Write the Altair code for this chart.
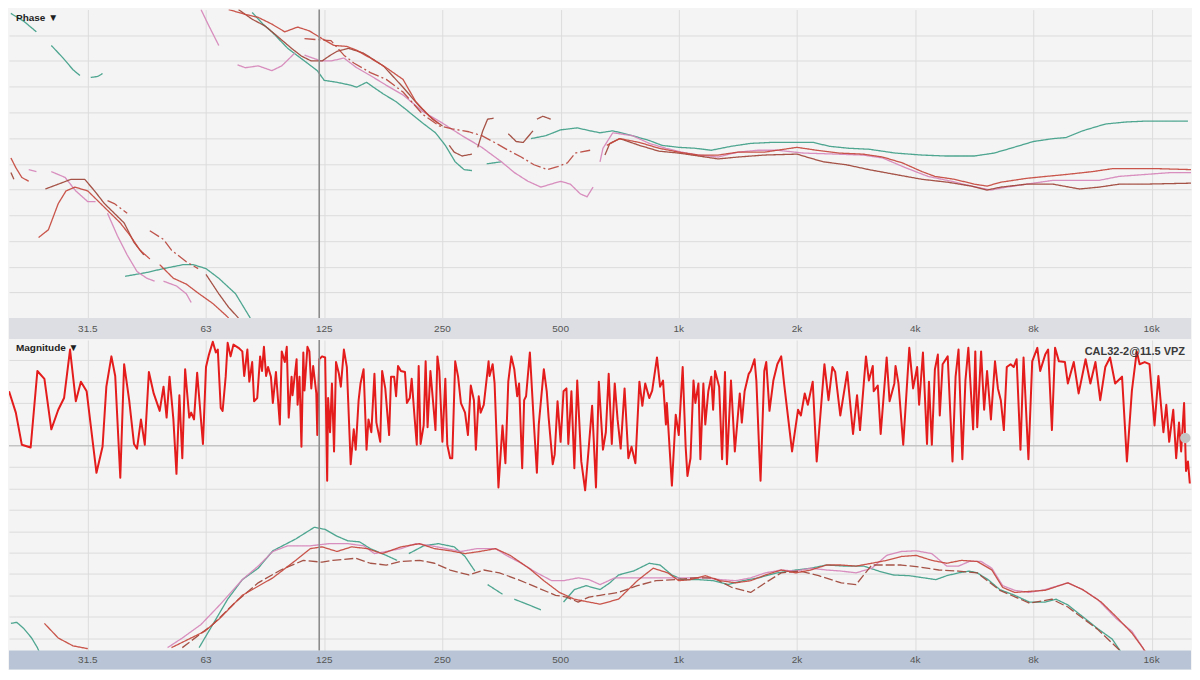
import altair as alt
import pandas as pd

# ---------------- axis / layout constants ----------------
F_MIN, F_MAX = 19.686, 20159
W = 1184
H_PH, BAND1 = 309, 21
H_MAG, BAND2 = 311, 19

TICK_FREQS = [31.25, 62.5, 125, 250, 500, 1000, 2000, 4000, 8000, 16000]
TICK_LABELS = ["31.5", "63", "125", "250", "500", "1k", "2k", "4k", "8k", "16k"]
PHASE_GRID = [-150, -120, -90, -60, -30, 0, 30, 60, 90, 120, 150]
MAG_GRID = [24, 18, 12, 6, -6, -12, -18, -24, -30, -36, -42, -48, -54]
CURSOR_F = [121.4]

# ---------------- phase traces  [freq Hz, degrees], None = gap ----------------
PH_TEAL = [[19.9,175.5],[21.46,166.4],[23.12,154], None,
    [25.23,138.1],[27.04,123.4],[28.65,109.8],[29.84,103], None,
    [31.79,100.8],[33.11,101.9],[34.07,105.3], None,
    [38.89,-131.3],[44.19,-126.8],[48.72,-122.3],[54.69,-117.7],[57.94,-117.7],[62.5,-122.3],[67.37,-133.6],[74.33,-151.7],[81.03,-180], None,
    [81.94,176.6],[87.3,163],[91.98,154],[100.94,134.7],[111.36,120],[120.03,108.7],[125,97.4],[134.74,95.1],[146.01,91.7],[151.24,89.4],
    [160.23,95.1],[166.86,89.4],[176.78,81.5],[190.55,72.5],[201.88,63.4],[222.72,47.5],[240.08,36.2],[254.35,21.5],[269.48,2.3],[283.88,-6.8],[297.3,-7.9], None,
    [324.11,0],[353.55,2.3], None,
    [420.45,29.4],[458.37,32.8],[500,39.6],[551.2,41.9],[594.6,38.5],[630,36.2],[679,38.5],[762.2,32.8],[840.9,27.2],[906.4,21.5],[1000,19.2],
    [1102,18.1],[1210,15.8],[1358,20.4],[1524,23.8],[1711,24.9],[2000,24.9],[2205,24.9],[2419,20.4],[2716,18.1],[3049,17],[3564,12.5],[4162,10.2],
    [4757,9.1],[5657,9.1],[6350,12.5],[7000,18.1],[8000,26],[8980,29.4],[9680,30.6],[10679,38.5],[12195,46.4],[13688,48.7],[15365,49.8],[17246,49.8],[19800,49.8]]

PH_PINK = [[22.1,-6.8],[23.12,-9.1], None,
    [25.23,-9.1],[27.35,-15.9],[29.13,-31.7],[31.25,-44.2],[32.7,-44.2], None,
    [35.08,-57.7],[37.16,-83.8],[39.37,-106.4],[41.71,-125.7],[44.19,-133.6],[46.24,-137], None,
    [48.72,-137],[52.56,-142.6],[55.68,-151.7],[57.3,-161.9], None,
    [60.7,180],[63.59,160.8],[67.37,138.1], None,
    [75.19,115.5],[78.75,112.1],[84.88,114.3],[91.98,108.7],[97.45,114.3],[100.94,121.1],[105.11,129.1], None,
    [111.36,126.8],[122.77,120],[130.08,120],[140.31,123.4],[151.24,112.1],[163.88,103],[179.86,91.7],[198.43,80.4],[222.72,61.1],[250,47.5],
    [280.62,32.8],[314.98,19.2],[353.55,2.3],[381.1,-10.2],[412.96,-20.4],[445.45,-27.2],[471.94,-23.8],[500,-20.4],[529.7,-23.8],[561.2,-35.1],
    [584,-38.5],[604.9,-27.2], None,
    [630,2.3],[641,18.1],[679,36.2],[762.2,32.8],[840.9,23.8],[927,18.1],[1017,13.6],[1122,10.2],[1260,7.9],[1414,13.6],[1587,15.8],[1782,15.8],
    [2081,12.5],[2520,11.3],[2943,10.2],[3304,6.8],[3776,-4.5],[4312,-14.7],[4950,-20.4],[5556,-26],[6236,-30.6],[6844,-27.2],[7682,-23.8],
    [8980,-19.3],[10254,-19.3],[11773,-19.3],[13215,-14.7],[15365,-12.5],[17959,-10.2],[20159,-10.2]]

PH_RED = [[19.91,6.8],[20.49,-4.5],[21.22,-15.9],[22.1,-20.4], None,
    [23.41,-86.1],[24.8,-77],[26.28,-46.4],[27.5,-31.7],[28.97,-27.2],[31.25,-31.7],[33.11,-43],[35.08,-54.3],[37.81,-69],[40.06,-83.8],[42.44,-100.8],[44.96,-111], None,
    [47.64,-117.7],[51.62,-133.6],[55.68,-140.4],[60.02,-151.7],[65.04,-163],[70.15,-176.6],[71.38,-180], None,
    [71.38,180],[78.75,174.3],[84.88,170.9],[91.98,163],[99.21,154],[106.94,159.6],[114.59,155.1],[123.45,146],[132.43,138.1],[142.75,137],
    [151.24,132.5],[163.88,123.4],[179.86,112.1],[198.43,98.5],[213.88,72.5],[231.76,55.5],[245.55,46.4], None,
    [655.6,21.5],[707.1,29.4],[793.7,24.9],[890.9,18.1],[1000,13.6],[1122,10.2],[1260,10.2],[1414,13.6],[1651,13.6],[2000,19.2],[2245,15.8],
    [2564,12.5],[2943,11.3],[3304,7.9],[3709,1.1],[4162,-9.1],[4490,-14.7],[5040,-18.1],[5657,-23.8],[6097,-26],[6608,-21.5],[7682,-17],
    [8623,-14.7],[9680,-12.5],[11314,-9.1],[12699,-5.7],[14254,-5.7],[16650,-5.7],[20159,-6.8]]

PH_BROWN = [[19.91,-10.2],[20.26,-18.1], None,
    [24.36,-29.4],[26.28,-23.8],[28.32,-18.1],[30.69,-18.1],[32.52,-31.7],[34.45,-46.4],[36.5,-57.7],[38.67,-69],[40.97,-91.7],[43.41,-106.4], None,
    [62.5,-129.1],[67.37,-151.7],[71.38,-167.5],[75.62,-180], None,
    [75.62,180],[81.94,168.7],[88.39,160.8],[95.27,148.3],[103.24,134.7],[109.38,125.7],[115.88,120],[123.45,120],[128.63,125.7],[134.74,131.3],
    [144.38,134.7],[157.49,129.1],[176.78,114.3],[198.43,89.4],[218.75,66.8],[235.97,52.1],[250,44.2], None,
    [260.2,21.5],[267.9,13.6],[280.62,9.1],[297.3,11.3], None,
    [307.6,19.2],[316.8,38.5],[325.9,52.1],[337.6,53.2], None,
    [367.9,35.1],[385.4,26],[401.5,24.9],[425.3,38.5], None,
    [435.1,52.1],[450.6,55.5],[471.94,52.1], None,
    [648.3,10.2],[667.4,23.8],[707.1,29.4],[793.7,21.5],[890.9,14.7],[1000,12.5],[1122,9.1],[1260,5.7],[1414,7.9],[1651,10.2],[2000,11.3],
    [2156,6.8],[2336,2.3],[2670,-1.1],[3049,-6.8],[3564,-12.5],[4162,-18.1],[4840,-21.5],[5556,-26],[6097,-30.6],[6608,-27.2],[7682,-23.8],
    [8980,-23.8],[10488,-29.4],[11773,-27.2],[13215,-23.8],[15102,-23.8],[20159,-22.6]]

PH_DASH = [[35.08,-43],[36.5,-46.4],[39.37,-57.7], None,
    [44.96,-78.1],[48.72,-88.3],[51.05,-100.8],[55.68,-114.3],[59.68,-122.3], None,
    [111.36,146],[120.03,144.9],[130.08,143.8],[140.31,126.8],[148.65,117.7],[163.88,106.4],[179.86,98.5],[198.43,83.8],[222.72,57.7],
    [245.55,44.2],[264.87,40.8],[292,37.4],[314.98,32.8],[339.52,24.9],[367.91,15.8],[396.85,7.9],[427.77,-1.1],[463.54,-6.8],[491.1,-3.4],
    [520.3,1.1],[545.1,12.5],[594.6,15.8]]

# ---------------- magnitude traces [freq Hz, dB] ----------------
MAG_TEAL = [[19.91,-49.9],[20.6,-49.6],[21.46,-51.3],[22.48,-54],[23.25,-56.7],[23.55,-58.1], None,
    [60.02,-56.7],[65.04,-50.2],[70.97,-43.1],[77.34,-37.6],[84.88,-34.4],[92.49,-29.5],[105.72,-26.2],[117.98,-22.9],[125.7,-23.5],
    [134.74,-25.4],[143.57,-26.7],[153.82,-27],[163.88,-28.9],[179.86,-30.8],[191.64,-32.2], None,
    [205.34,-30.3],[224.01,-28.1],[244.18,-27.5],[267.94,-28.4],[285.5,-31.1],[302.47,-35.2], None,
    [325.94,-39],[355.6,-41.7], None,
    [381.1,-43.1],[415.26,-44.7],[445.45,-46.1], None,
    [508.7,-43.9],[542,-40.4],[580.7,-39.3],[630,-40.4],[667.4,-38.5],[702.2,-36.3],[766.6,-35.2],[840.9,-33],[896.1,-33.5],[960.3,-36.3],
    [1023,-37.6],[1122,-37.6],[1223,-37.9],[1335,-39],[1455,-37.9],[1596,-37.1],[1782,-35.7],[1987,-34.9],[2168,-34.4],[2378,-33.5],
    [2652,-33.8],[2959,-33.8],[3230,-35.2],[3520,-36.3],[3864,-36.5],[4209,-37.1],[4516,-37.6],[4812,-36.5],[5157,-35.7],[5494,-35.2],
    [5755,-35.7],[6132,-37.6],[6571,-40.4],[7168,-42],[7814,-43.9],[8574,-43.9],[9136,-43.1],[9790,-44.7],[10679,-48],[11642,-51.3],
    [12699,-54.3],[13288,-57.5],[13532,-58.9]]

MAG_PINK = [[49.9,-56.7],[54.39,-54],[60.7,-50.2],[67.75,-44.7],[77.34,-37.6],[84.88,-33.8],[92.49,-29.7],[100.94,-28.1],[115.24,-28.1],
    [128.63,-27.5],[143.57,-27.5],[157.49,-28.1],[167.83,-30.3],[179.86,-29.7],[195.98,-28.9],[213.88,-27.5],[234.35,-28.1],[255.8,-28.9],
    [278.7,-29.7],[305.9,-28.9],[341.45,-28.9],[363.8,-30.8],[396.85,-33],[435.1,-35.7],[474.7,-37.9],[508.7,-37.9],[554.3,-37.1],
    [590.5,-37.6],[630,-39],[686.8,-37.1],[753.5,-37.1],[821.3,-37.1],[896.1,-37.1],[982.2,-37.1],[1071,-37.1],[1168,-37.1],[1275,-37.6],
    [1397,-37.9],[1524,-37.1],[1661,-35.7],[1823,-34.9],[1987,-35.2],[2168,-34.4],[2378,-34.9],[2593,-35.2],[2828,-35.7],[3101,-34.4],
    [3384,-30.8],[3688,-29.7],[4023,-29.5],[4410,-30.3],[4812,-33.8],[5157,-33.8],[5494,-32.5],[5887,-32.5],[6271,-34.4],[6681,-39.3],
    [7168,-40.6],[7814,-41.2],[8574,-40.4],[9790,-38.5],[10679,-40.4],[11642,-43.1],[12994,-48.5],[14254,-52.1],[15190,-56.7],[15365,-58.1]]

MAG_RED = [[24.23,-49.9],[26.28,-54],[28.65,-56.2],[31.25,-57], None,
    [51.05,-56.7],[62.07,-52.1],[67.75,-48.5],[77.34,-42],[92.49,-37.1],[105.72,-32.2],[115.24,-28.9],[123.45,-28.4],[134.74,-29.7],
    [146.82,-28.4],[161.14,-28.9],[175.57,-30.3],[195.98,-28.4],[218.75,-27.5],[238.71,-28.9],[261.6,-29.5],[285.5,-30.3],[311.1,-29.7],
    [341.45,-28.9],[372,-30.8],[415.26,-34.4],[453.2,-37.9],[496.6,-41.2],[542,-43.1],[590.5,-43.9],[630,-44.5],[702.2,-43.1],[784,-37.9],
    [860.4,-34.4],[937.4,-35.7],[1000,-37.9],[1071,-37.6],[1168,-36.5],[1275,-37.9],[1397,-38.5],[1524,-37.9],[1661,-36.3],[1823,-34.9],
    [1987,-35.7],[2168,-34.9],[2378,-33.5],[2593,-33.5],[2828,-33.8],[3101,-33],[3384,-32.2],[3688,-31.1],[4023,-30.8],[4410,-32.2],
    [4812,-33],[5245,-32.2],[5755,-32.5],[6271,-34.9],[6681,-39.8],[7168,-41.2],[8574,-40.6],[9790,-38.5],[10679,-40.4],[11905,-43.9],
    [12994,-48],[14254,-52.6],[15365,-57.5],[15600,-58.5]]

MAG_BROWN = [[54.39,-56.7],[65.04,-50.2],[74.33,-43.9],[84.88,-38.5],[96.9,-34.9],[110.6,-32.2],[123.45,-32.7],[131.5,-32.2],[150.4,-31.6],
    [163.88,-33],[179.86,-33.5],[195.98,-32.5],[218.75,-32.2],[238.71,-33],[261.6,-34.9],[292,-36.3],[318.6,-34.9],[349.2,-35.7],
    [389.8,-37.6],[435.1,-39.8],[485.6,-42],[517.4,-42.5],[554.3,-43.9],[590.5,-42.5],[630,-42],[702.2,-41.2],[784,-39.3],[875,-37.9],
    [982.2,-37.6],[1096,-37.1],[1223,-37.1],[1366,-39.8],[1524,-41.2],[1661,-38.5],[1823,-35.7],[2035,-35.2],[2271,-36.5],[2593,-38.5],
    [2828,-39],[3101,-33.5],[3384,-33.5],[3688,-33.5],[4116,-34.1],[4594,-34.9],[5157,-35.2],[5755,-35.7],[6571,-40.6],[7814,-44.2],
    [8918,-43.1],[9790,-45.3],[11642,-51.5],[13288,-57.5],[13600,-58.8]]

# noisy measurement trace (top half of magnitude panel)
MAG_LIVE = [[19.69,15.3],[20.49,9.3],[21.22,0.3],[22.35,-0.5],[23.25,21.0],[24.23,18.8],[25.23,4.6],[26.28,10.1],[27.19,13.4],[28.16,27.0],
    [29.13,12.5],[30.01,18.0],[31.04,15.3],[32.88,-7.6],[34.07,-0.3],[34.84,16.6],[35.89,25.1],[36.7,19.6],[37.81,-9.0],[38.67,22.9],
    [39.83,12.8],[40.97,0.5],[41.71,-0.8],[42.68,7.4],[43.65,0.3],[44.71,20.7],[45.99,14.7],[47.64,9.8],[48.72,16.6],[49.61,7.9],
    [50.47,19.4],[51.62,7.4],[52.56,-7.9],[53.47,14.2],[54.39,-3.5],[55.3,21.5],[56.65,7.9],[57.3,9.3],[58.26,7.4],[59.34,20.5],
    [61.39,0.5],[62.5,22.1],[63.59,25.6],[65.04,29.2],[66.22,26.2],[66.98,27.0],[68.14,10.6],[68.9,9.8],[70.15,19.4],[70.97,28.9],
    [72.19,25.1],[73.41,28.4],[75.62,27.5],[77.34,26.5],[78.2,19.6],[79.66,27.0],[80.57,18.0],[81.94,23.5],[82.86,12.5],[84.4,13.4],
    [85.85,25.1],[86.81,21.0],[87.78,27.8],[88.9,19.6],[89.93,22.1],[91.46,19.4],[92.49,12.0],[94.19,20.7],[96.36,6.0],[97.45,26.5],
    [99.21,23.5],[100.36,27.8],[101.52,7.9],[103.24,19.4],[103.82,14.2],[106.33,24.3],[106.94,11.5],[108.16,19.4],[109.38,-0.3],[110.6,26.2],
    [111.36,15.5],[113.3,27.8],[114.59,26.5],[115.88,16.1],[117.17,22.4],[119.35,14.7],[120.03,3.0],[121.4,24.3],[123.45,25.1],[125.7,24.8],
    [127.2,-9.8],[127.9,13.4],[129.35,3.8],[130.8,17.5],[132.43,-1.6],[133.97,23.5],[136.27,20.2],[137.81,16.6],[140.31,27.0],[142.75,22.1],
    [146.01,-5.2],[148.65,4.6],[150.37,-1.1],[152.96,12.8],[154.68,17.5],[157.49,21.5],[160.23,-1.1],[162.06,7.4],[164.8,3.8],[167.83,20.2],
    [169.76,6.5],[173.63,1.1],[175.57,21.0],[178.83,16.1],[182.93,3.0],[184.98,19.4],[188.38,19.4],[190.55,13.9],[192.72,22.4],[195.98,21.0],
    [200.73,20.7],[203.03,12.0],[206.49,13.4],[208.79,18.8],[212.66,7.1],[215.1,0.3],[217.54,22.4],[219.97,0.5],[224.01,5.7],[226.6,23.7],
    [229.18,5.2],[233.05,21.0],[240.08,4.4],[242.81,25.1],[245.55,21.0],[250,1.1],[254.35,18.8],[257.25,0.3],[261.6,-3.5],[264.87,-3.5],
    [269.48,23.7],[274.09,19.4],[278.7,12.0],[285.5,9.3],[290.39,3.0],[295.27,16.9],[300.75,12.8],[304.2,-1.1],[309.37,13.9],[312.82,9.3],
    [318.63,11.5],[327.77,23.7],[329.6,19.6],[335.65,22.9],[339.52,17.5],[347.26,-11.7],[355.6,5.7],[361.75,-4.9],[367.91,18.0],[374.58,25.1],
    [381.1,21.5],[387.6,13.9],[391.97,17.5],[399.15,-6.3],[403.76,12.8],[408.36,13.9],[417.57,26.2],[427.77,5.7],[435.1,-7.6],[439.96,6.0],
    [453.2,21.5],[460.95,15.3],[466.12,7.9],[477.41,-5.2],[482.89,-2.5],[491.1,12.5],[500,1.1],[508.7,15.3],[517.4,16.1],[523.2,0.5],
    [532.77,15.3],[542,-6.3],[551.2,18.3],[564.45,-4.4],[577.47,-12.5],[587.24,-3.0],[601.5,11.2],[615.29,-11.7],[625.6,18.0],
    [641,-1.1],[651.9,3.8],[662.9,20.2],[675.1,0.5],[686.8,17.5],[698.4,7.4],[711.2,-0.8],[727.6,16.1],[744,-3.5],[757.9,-0.3],
    [775.3,-4.9],[793.7,18.0],[807.5,11.2],[821.3,17.5],[840.9,13.4],[855.5,15.5],[879.9,24.8],[896.1,16.6],[911.6,18.3],[927.1,6.0],
    [932.2,12.0],[960.3,-11.2],[982.2,8.7],[1000,3.0],[1023,22.1],[1041,-0.3],[1052,-8.5],[1071,-3.5],[1090,18.3],[1102,12.0],
    [1122,17.5],[1135,-3.8],[1155,17.5],[1168,6.0],[1189,15.3],[1210,19.4],[1223,10.1],[1237,21.0],[1267,16.6],[1289,-3.8],
    [1311,20.7],[1326,-5.2],[1358,18.3],[1389,-1.6],[1430,14.7],[1447,6.5],[1471,15.3],[1507,20.2],[1524,21.0],[1559,24.3],
    [1576,18.3],[1605,-3.5],[1615,-9.8],[1651,21.0],[1670,23.5],[1702,9.8],[1741,18.3],[1782,22.9],[1823,25.1],[1854,17.5],
    [1943,-1.6],[2012,10.1],[2046,8.5],[2093,14.7],[2131,11.5],[2193,18.0],[2245,-4.4],[2349,22.9],[2406,12.8],[2461,22.1],
    [2502,20.7],[2578,8.5],[2685,20.7],[2778,3.3],[2844,14.2],[2894,4.4],[2997,25.1],[3049,18.3],[3119,22.4],[3136,15.3],
    [3212,16.9],[3267,3.3],[3384,24.8],[3442,12.5],[3540,17.5],
    [3564,22.4],[3626,17.5],[3729,0.3],[3864,27.5],[3951,16.1],[4046,22.1],[4093,11.5],[4186,26.2],[4287,0.5],[4336,18.0],
    [4410,0.3],[4490,21.5],[4568,25.6],[4620,8.5],[4698,22.9],[4840,25.1],[4978,-4.4],[5069,19.4],[5157,27.0],[5274,-3.8],
    [5370,18.3],[5463,27.5],[5618,4.6],[5690,26.5],[5755,5.2],[5887,26.5],[5993,10.1],[6097,21.0],[6236,7.4],[6387,23.7],
    [6497,16.1],[6608,12.8],[6727,4.4],[6844,22.1],[7000,22.9],[7127,22.1],[7251,24.3],[7416,-1.1],[7551,24.8],[7770,-3.8],
    [7945,23.7],[8186,27.5],[8325,21.0],[8574,25.6],[8722,27.0],[8918,4.4],[9084,27.5],[9292,23.7],[9624,23.5],[9790,17.5],
    [10137,23.5],[10430,14.7],[10865,24.3],[11175,17.5],[11511,23.5],[11839,12.8],[12195,22.1],[12542,24.8],[12920,17.5],[13454,19.4],
    [13844,-4.4],[14254,15.5],[14667,26.5],[14915,22.9],[15365,23.5],[15803,22.9],[16278,5.7],[16650,19.6],[17148,3.8],[17443,11.5],
    [17738,1.1],[18167,10.1],[18480,-3.5],[18792,6.5],[19027,-1.6],[19358,12.0],[19579,-7.1],[19800,-4.4],[20020,-10.6]]

HANDLE = [[19500, 2.2]]

TRACE_NAMES = ["teal", "pink", "red", "brown", "dash"]
TRACE_COLORS = ["#3f9e88", "#d584b8", "#c4463c", "#9e4437", "#b8473d"]
STYLE_NAMES = ["solid", "dash", "dashdot"]
STYLE_DASHES = [[1, 0], [9, 3], [11, 3, 2, 3]]

FONT = "Liberation Sans"


def to_frame(traces):
    rows = []
    k = 0
    for name, pts, style in traces:
        seg = 0
        for p in pts:
            if p is None:
                seg += 1
                continue
            rows.append({"f": p[0], "v": p[1], "trace": name, "seg": f"{name}_{seg}",
                         "style": style, "i": k})
            k += 1
    return pd.DataFrame(rows)


xs = alt.Scale(type="log", domain=[F_MIN, F_MAX], nice=False)
x_axis = alt.Axis(values=TICK_FREQS, grid=True, labels=False, ticks=False, domain=False,
                  title=None, gridColor="#dcdcdc", gridWidth=1)
color_scale = alt.Scale(domain=TRACE_NAMES, range=TRACE_COLORS)
dash_scale = alt.Scale(domain=STYLE_NAMES, range=STYLE_DASHES)


def panel(traces_df, ydomain, ygrid, height, band, band_color, title, extra_layers):
    ys = alt.Scale(domain=ydomain, nice=False, zero=False)
    y_axis = alt.Axis(values=ygrid, grid=True, labels=False, ticks=False, domain=False,
                      title=None, gridColor="#dcdcdc", gridWidth=1)
    one = pd.DataFrame({"a": [0]})
    band_rect = alt.Chart(one).mark_rect(color=band_color).encode(
        x=alt.value(0), x2=alt.value(W), y=alt.value(height), y2=alt.value(height + band))
    lines = alt.Chart(traces_df).mark_line(clip=True, strokeWidth=1.3, opacity=0.92,
                                           strokeJoin="round").encode(
        x=alt.X("f:Q", scale=xs, axis=x_axis),
        y=alt.Y("v:Q", scale=ys, axis=y_axis),
        color=alt.Color("trace:N", scale=color_scale, legend=None),
        strokeDash=alt.StrokeDash("style:N", scale=dash_scale, legend=None),
        detail="seg:N",
        order="i:Q",
    )
    cursor = alt.Chart(pd.DataFrame({"f": CURSOR_F})).mark_rule(
        color="#8c8c8c", strokeWidth=1.6).encode(
        x=alt.X("f:Q", scale=xs, axis=x_axis), y=alt.value(0), y2=alt.value(height))
    ticks = alt.Chart(pd.DataFrame({"f": TICK_FREQS, "label": TICK_LABELS})).mark_text(
        font=FONT, fontSize=10, color="#555555", baseline="middle").encode(
        x=alt.X("f:Q", scale=xs, axis=x_axis), y=alt.value(height + band / 2 + 0.5),
        text="label:N")
    ttl = alt.Chart(one).mark_text(font=FONT, fontSize=10, fontWeight="bold", color="#1e1e1e",
                                   align="left", baseline="middle").encode(
        x=alt.value(7), y=alt.value(8), text=alt.value(title))
    layers = [band_rect, lines] + extra_layers(xs, ys, y_axis) + [cursor, ticks, ttl]
    return alt.layer(*layers).properties(width=W, height=height)


def phase_extra(xs, ys, y_axis):
    return []


def mag_extra(xs, ys, y_axis):
    zero = alt.Chart(pd.DataFrame({"v": [0]})).mark_rule(color="#c3c3c3", strokeWidth=1.3).encode(
        y=alt.Y("v:Q", scale=ys, axis=y_axis), x=alt.value(0), x2=alt.value(W))
    live_df = pd.DataFrame({"f": [p[0] for p in MAG_LIVE], "v": [p[1] for p in MAG_LIVE],
                            "i": list(range(len(MAG_LIVE)))})
    live = alt.Chart(live_df).mark_line(clip=True, color="#e41c1c", strokeWidth=2,
                                        strokeJoin="round").encode(
        x=alt.X("f:Q", scale=xs, axis=x_axis),
        y=alt.Y("v:Q", scale=ys, axis=y_axis),
        order="i:Q")
    handle = alt.Chart(pd.DataFrame({"f": [HANDLE[0][0]], "v": [HANDLE[0][1]]})).mark_point(
        filled=True, size=110, color="#c4c4c4", opacity=1, shape="circle").encode(
        x=alt.X("f:Q", scale=xs, axis=x_axis), y=alt.Y("v:Q", scale=ys, axis=y_axis))
    cal = alt.Chart(pd.DataFrame({"a": [0]})).mark_text(
        font=FONT, fontSize=11, fontWeight="bold", color="#3a3a3a", align="right",
        baseline="middle").encode(x=alt.value(1178), y=alt.value(12),
                                  text=alt.value("CAL32-2@11.5 VPZ"))
    return [zero, live, handle, cal]


phase_df = to_frame([
    ("teal", PH_TEAL, "solid"),
    ("pink", PH_PINK, "solid"),
    ("brown", PH_BROWN, "solid"),
    ("red", PH_RED, "solid"),
    ("dash", PH_DASH, "dashdot"),
])
mag_df = to_frame([
    ("teal", MAG_TEAL, "solid"),
    ("pink", MAG_PINK, "solid"),
    ("brown", MAG_BROWN, "dash"),
    ("red", MAG_RED, "solid"),
])

top = panel(phase_df, [-180, 180], PHASE_GRID, H_PH, BAND1, "#dcdee3", "Phase \u25BC", phase_extra)
bottom = panel(mag_df, [-57.5, 29.7], MAG_GRID, H_MAG, BAND2, "#b9c5d6", "Magnitude \u25BC", mag_extra)

chart = alt.vconcat(top, bottom, spacing=0).properties(
    padding=0, background="#f4f4f4"
).configure_view(fill="#f4f4f4", stroke=None).configure_concat(spacing=0)

chart.save("out.html", embed_options={"renderer": "svg", "actions": False})
